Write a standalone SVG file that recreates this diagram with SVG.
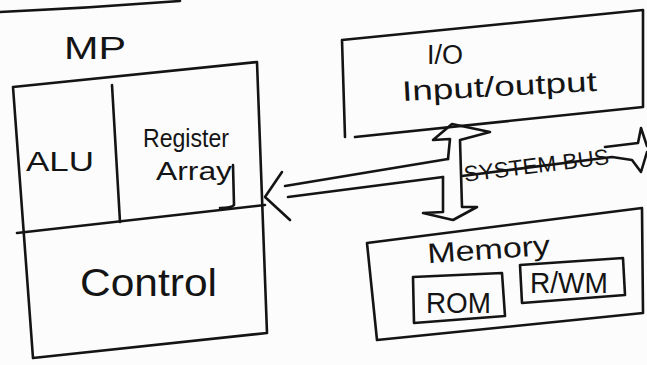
<svg xmlns="http://www.w3.org/2000/svg" width="647" height="365" viewBox="0 0 647 365">
<style>
  .ln { fill: none; stroke: #141414; stroke-width: 2.6; stroke-linecap: round; stroke-linejoin: round; }
  .tx { font-family: "Liberation Sans", "DejaVu Sans", sans-serif; fill: #141414; }
</style>
<rect x="0" y="0" width="647" height="365" fill="#fcfcfc"/>
<path class="ln" d="M0,12 Q90,8 180,1"/>

<g id="mp">
  <text class="tx" x="64" y="59" font-size="32" textLength="62" lengthAdjust="spacingAndGlyphs">MP</text>
  <path class="ln" d="M13,87 L257,62 L267,333 L33,358 Z"/>
  <path class="ln" d="M17,233 L265,205"/>
  <path class="ln" d="M112,85 L120,222"/>
  <path class="ln" d="M233,165 L234,205 Q232,208 220,208"/>
  <text class="tx" x="26" y="171" font-size="28" textLength="68" lengthAdjust="spacingAndGlyphs">ALU</text>
  <text class="tx" x="143" y="147" font-size="25" textLength="86" lengthAdjust="spacingAndGlyphs">Register</text>
  <text class="tx" x="156" y="180" font-size="25" textLength="76" lengthAdjust="spacingAndGlyphs">Array</text>
  <text class="tx" x="80" y="296" font-size="38" textLength="137" lengthAdjust="spacingAndGlyphs">Control</text>
</g>

<g id="io">
  <path class="ln" d="M345,137 L342,40 L643,10 L643,107 L355,137"/>
  <text class="tx" x="427" y="64" font-size="27" textLength="36" lengthAdjust="spacingAndGlyphs">I/O</text>
  <text class="tx" x="402" y="96" font-size="28" textLength="195" lengthAdjust="spacingAndGlyphs" transform="rotate(-3 500 90)">Input/output</text>
</g>

<g id="memory">
  <path class="ln" d="M377,340 L367,243 L642,208 L643,313 Z"/>
  <text class="tx" x="427" y="259" font-size="28" textLength="123" lengthAdjust="spacingAndGlyphs" transform="rotate(-4 488 248)">Memory</text>
  <g id="rom">
    <path class="ln" d="M413,277 L502,273 L505,316 L414,323 Z"/>
    <text class="tx" x="426" y="313" font-size="30" textLength="65" lengthAdjust="spacingAndGlyphs">ROM</text>
  </g>
  <g id="rwm">
    <path class="ln" d="M520,265 L623,258 L625,295 L522,303 Z"/>
    <text class="tx" x="530" y="293" font-size="30" textLength="78" lengthAdjust="spacingAndGlyphs">R/WM</text>
  </g>
</g>

<g id="connectors">
  <path class="ln" d="M282,172 L265,197 L290,220"/>
  <path class="ln" d="M285,186 L448,159"/>
  <path class="ln" d="M288,197 L443,177"/>
  <path class="ln" d="M448,159 L450,139 L433,140 L452,124 L490,132 L460,140 L462,207 L477,207 L453,220 L423,213 L443,212 L443,177"/>
  <path class="ln" d="M462,176 L612,157 L632,160 L641,172 L647,152"/>
  <path class="ln" d="M605,147 L638,143 L641,128 L647,146"/>
  <text class="tx" x="463" y="173" font-size="22" textLength="146" lengthAdjust="spacingAndGlyphs" transform="rotate(-7 536 163)">SYSTEM BUS</text>
</g>
</svg>
